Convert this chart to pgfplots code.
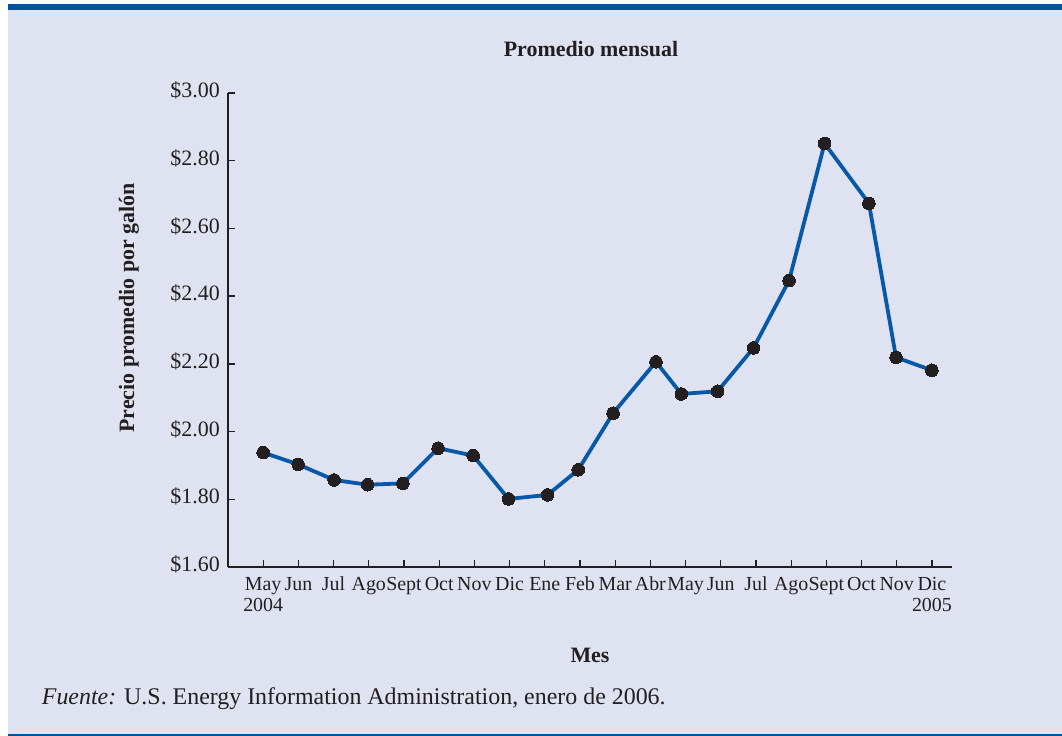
\documentclass[border=0pt]{standalone}
\usepackage{pgfplots}
\pgfplotsset{compat=1.18}
\usepackage{fontspec}
\setmainfont{Liberation Serif}
\definecolor{bgc}{RGB}{223,227,241}
\definecolor{barc}{RGB}{0,84,159}
\definecolor{linec}{RGB}{8,88,168}
\definecolor{ink}{RGB}{35,31,32}
\begin{document}
\begin{tikzpicture}
\path[use as bounding box] (0,0) rectangle (1062bp,736bp);
\fill[white] (0,0) rectangle (1062bp,736bp);
\fill[bgc] (8bp,2bp) rectangle (1062bp,726bp);
\fill[barc] (8bp,726bp) rectangle (1062bp,732bp);
\fill[barc] (8bp,0bp) rectangle (1062bp,2bp);
\begin{axis}[
  at={(228bp,169bp)}, anchor=south west,
  scale only axis, width=724bp, height=474bp,
  xmin=-1, xmax=19.57, ymin=1.6, ymax=3.0,
  axis x line=bottom, axis y line=left,
  axis line style={-, ink, line width=1.4bp},
  clip=false,
  xtick={0,1,...,19},
  xticklabels={{May\\2004},Jun,Jul,Ago,Sept,Oct,Nov,Dic,Ene,Feb,Mar,Abr,May,Jun,Jul,Ago,Sept,Oct,Nov,{Dic\\2005}},
  ytick={1.6,1.8,2.0,2.2,2.4,2.6,2.8,3.0},
  yticklabels={\$1.60,\$1.80,\$2.00,\$2.20,\$2.40,\$2.60,\$2.80,\$3.00},
  tick align=inside,
  major tick length=7bp,
  tick style={ink, line width=1.3bp},
  typeset ticklabels with strut,
  xticklabel style={font=\fontsize{20}{21}\selectfont, align=center, text=ink, inner sep=1bp, yshift=-8bp},
  yticklabel style={font=\fontsize{22}{22}\selectfont, text=ink, inner sep=2bp, xshift=-6bp},
]
\addplot[linec, line width=3.8bp, mark=*, mark size=6.3bp, mark options={fill=ink, draw=ink, line width=0pt}]
coordinates {
(0,1.938) (0.994,1.903) (2.017,1.857) (2.966,1.843) (3.969,1.847)
(4.97,1.951) (5.966,1.929) (6.97,1.801) (8.08,1.813) (8.95,1.887)
(9.94,2.054) (11.16,2.206) (11.88,2.111) (12.91,2.119) (13.93,2.247)
(14.94,2.446) (15.95,2.851) (17.21,2.674) (17.98,2.219) (19.0,2.181)
};
\end{axis}
\node[anchor=base, text=ink, font=\fontsize{22}{22}\selectfont\bfseries] at (591bp,679bp) {Promedio mensual};
\node[anchor=base, rotate=90, text=ink, font=\fontsize{22}{22}\selectfont\bfseries] at (134bp,428bp) {Precio promedio por galón};
\node[anchor=base, text=ink, font=\fontsize{22}{22}\selectfont\bfseries] at (590bp,73bp) {Mes};
\node[anchor=base west, inner sep=0pt, text=ink, font=\fontsize{24}{24}\selectfont] at (41.7bp,32bp) {\textit{Fuente:} U.S. Energy Information Administration, enero de 2006.};
\end{tikzpicture}
\end{document}
